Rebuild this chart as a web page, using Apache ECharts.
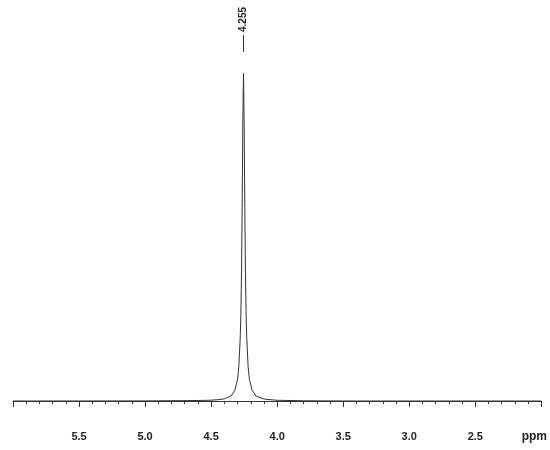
<!DOCTYPE html>
<html>
<head>
<meta charset="utf-8">
<script src="https://cdn.jsdelivr.net/npm/echarts@6/dist/echarts.min.js"></script>
<style>
  html, body { margin: 0; padding: 0; background: #fff; }
  #main { width: 550px; height: 450px; }
</style>
</head>
<body>
<div id="main"></div>
<script>
// chemical shift (ppm) and relative intensity
var ppm = [6.00, 5.00, 4.60, 4.50, 4.45, 4.40, 4.35, 4.32, 4.30, 4.29, 4.28, 4.275, 4.27, 4.265, 4.26,
           4.255,
           4.25, 4.245, 4.24, 4.235, 4.23, 4.22, 4.21, 4.19, 4.16, 4.10, 4.00, 3.80, 3.42, 3.405, 3.39, 3.00, 2.00];
var intensity = [0, 0.03, 0.15, 0.25, 0.4, 0.65, 1.5, 3.3, 6.6, 10.5, 19, 26, 39, 59, 85,
                 100,
                 85, 59, 39, 26, 19, 10.5, 6.6, 3.3, 1.5, 0.6, 0.22, 0.07, 0, 0.6, 0, 0, 0];
var peakLabel = '4.255';
var peakPos = 4.255;
var tickLabelSkip = [6];

var myChart = echarts.init(document.getElementById('main'));

var points = ppm.map(function(p, i) { return [p, intensity[i]]; });

var option = {
  animation: false,
  grid: { left: 13, right: 8, top: 73, bottom: 28 },
  xAxis: {
    type: 'value',
    min: 2,
    max: 6,
    inverse: true,
    interval: 0.5,
    axisLine: { lineStyle: { color: '#333', width: 1 } },
    axisTick: { length: 6, lineStyle: { color: '#333' } },
    minorTick: { show: true, splitNumber: 5, length: 3, lineStyle: { color: '#333' } },
    splitLine: { show: false },
    minorSplitLine: { show: false },
    axisLabel: {
      margin: 9,
      color: '#222',
      fontFamily: 'Liberation Sans, Arial, sans-serif',
      fontWeight: 'bold',
      fontSize: 11,
      formatter: function(v) {
        if (tickLabelSkip.indexOf(v) >= 0) return '';
        if (v === 2) return '{p|ppm}';
        return v.toFixed(1);
      },
      rich: {
        p: { padding: [0, 14, 0, 0], fontWeight: 'bold', fontSize: 12, color: '#222',
             fontFamily: 'Liberation Sans, Arial, sans-serif' }
      }
    }
  },
  yAxis: {
    type: 'value',
    min: -6.4,
    max: 100,
    show: false
  },
  series: [{
    type: 'line',
    data: points,
    symbol: 'none',
    lineStyle: { color: '#333', width: 1 },
    markPoint: {
      symbol: 'rect',
      symbolSize: [1, 17],
      symbolOffset: [0, -29.5],
      itemStyle: { color: '#333' },
      label: {
        show: true,
        position: 'top',
        distance: 3,
        rotate: 90,
        align: 'left',
        verticalAlign: 'middle',
        color: '#222',
        fontFamily: 'Liberation Sans, Arial, sans-serif',
        fontWeight: 'bold',
        fontSize: 10,
        formatter: peakLabel
      },
      data: [{ coord: [peakPos, 100] }]
    }
  }]
};

myChart.setOption(option);
</script>
</body>
</html>
